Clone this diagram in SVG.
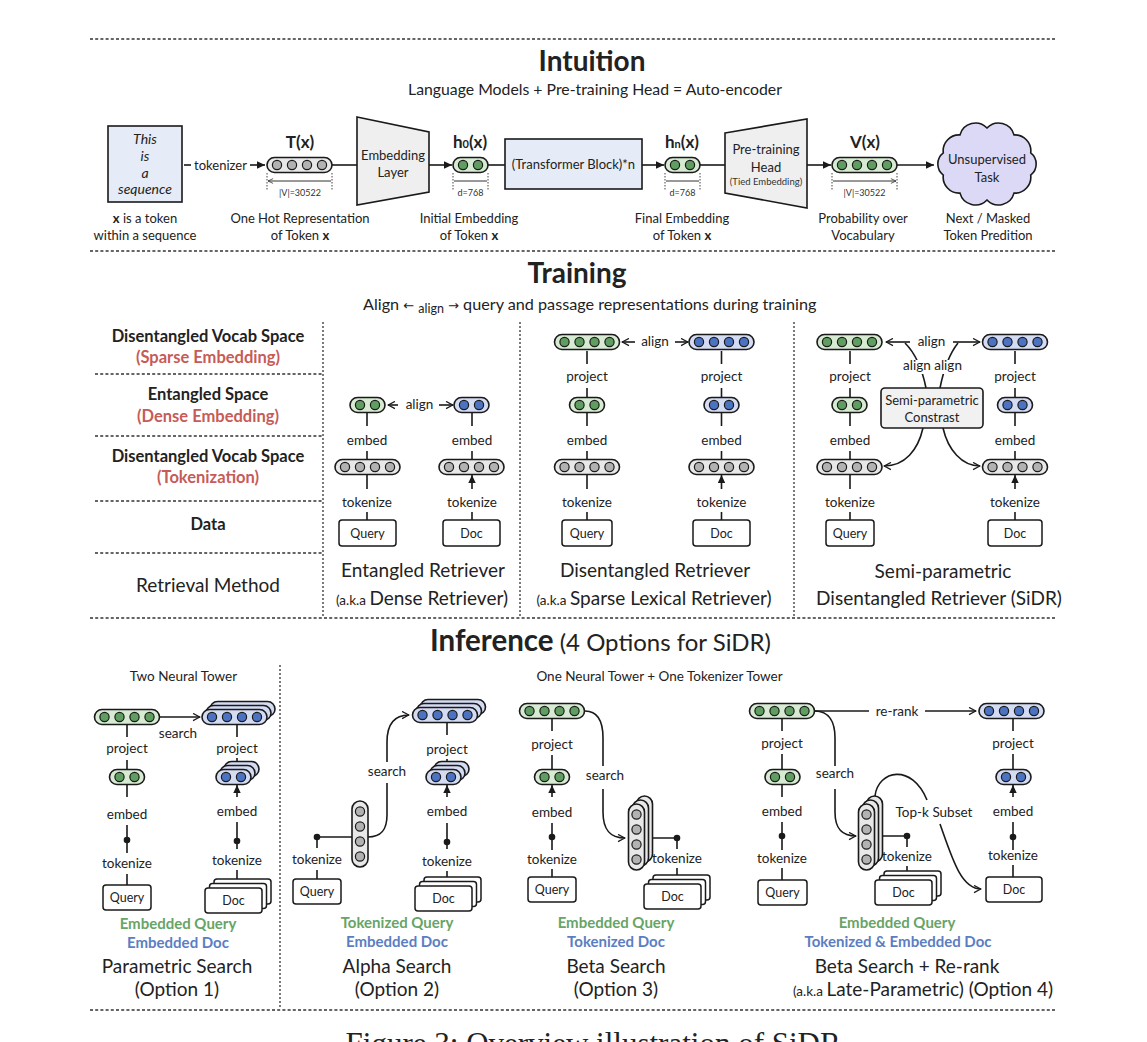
<svg xmlns="http://www.w3.org/2000/svg" width="1147" height="1042" viewBox="0 0 1147 1042">
<style>
text{font-family:Lato,"Noto Sans","DejaVu Sans",sans-serif;fill:#222}
.l{font-size:13.5px;text-anchor:middle}
.n{font-size:13px;text-anchor:middle}
.q{font-size:12.5px;text-anchor:middle}
.ttl{font-size:28px;font-weight:700;text-anchor:middle}
.sub{font-size:15.8px;text-anchor:middle}
.ct{font-size:19px;text-anchor:middle}
.lab{font-size:16.5px;font-weight:700;text-anchor:middle}
.red{fill:#c65b58}
.gt{fill:#67a466;font-size:15px;font-weight:700;text-anchor:middle}
.bt{fill:#5b7ec3;font-size:15px;font-weight:700;text-anchor:middle}
.fx{font-size:17px;font-weight:700;text-anchor:middle}
.dm{font-size:9px;text-anchor:middle;fill:#333}
.it{font-size:14px;font-style:italic;text-anchor:middle}
.ln{stroke:#1a1a1a;stroke-width:1.6;fill:none}
.dl{stroke:#333;stroke-width:1.3;stroke-dasharray:3 2.2;fill:none}
.vd{stroke:#333;stroke-width:1.3;stroke-dasharray:2 2;fill:none}
.dd{stroke:#444;stroke-width:1;stroke-dasharray:1.5 1.5;fill:none}
.bx{fill:#fff;stroke:#1a1a1a;stroke-width:1.5}
.G{fill:#d7ebd3;color:#5f9d60}
.B{fill:#d4dcf3;color:#4c72c2}
.K{fill:#e8e8e8;color:#b2b2b2}
.dot{fill:#1a1a1a}
</style>
<defs>
<marker id="af" viewBox="0 0 8 8" refX="8" refY="4" markerWidth="8" markerHeight="8" markerUnits="userSpaceOnUse" orient="auto"><path d="M0,0.3 L8,4 L0,7.7Z" fill="#1a1a1a"/></marker>
<marker id="ao" viewBox="0 0 10 10" refX="9.2" refY="5" markerWidth="9" markerHeight="9" markerUnits="userSpaceOnUse" orient="auto"><path d="M1.5,1 L9,5 L1.5,9" fill="none" stroke="#1a1a1a" stroke-width="1.4"/></marker>
<marker id="ad" viewBox="0 0 10 10" refX="9.5" refY="5" markerWidth="6" markerHeight="6" markerUnits="userSpaceOnUse" orient="auto-start-reverse"><path d="M1,1 L9.5,5 L1,9" fill="none" stroke="#333" stroke-width="1.3"/></marker>
<g id="h4"><rect x="-32.5" y="-7.5" width="65" height="15" rx="7.5" stroke="#1a1a1a" stroke-width="1.6"/><circle cx="-22.5" cy="0" r="4.6" fill="currentColor" stroke="#1a1a1a" stroke-width="1.2"/><circle cx="-7.5" cy="0" r="4.6" fill="currentColor" stroke="#1a1a1a" stroke-width="1.2"/><circle cx="7.5" cy="0" r="4.6" fill="currentColor" stroke="#1a1a1a" stroke-width="1.2"/><circle cx="22.5" cy="0" r="4.6" fill="currentColor" stroke="#1a1a1a" stroke-width="1.2"/></g>
<rect id="h4o" x="-32.5" y="-7.5" width="65" height="15" rx="7.5" stroke="#1a1a1a" stroke-width="1.6"/>
<g id="h2"><rect x="-17.5" y="-7.5" width="35" height="15" rx="7.5" stroke="#1a1a1a" stroke-width="1.6"/><circle cx="-7.5" cy="0" r="4.6" fill="currentColor" stroke="#1a1a1a" stroke-width="1.2"/><circle cx="7.5" cy="0" r="4.6" fill="currentColor" stroke="#1a1a1a" stroke-width="1.2"/></g>
<rect id="h2o" x="-17.5" y="-7.5" width="35" height="15" rx="7.5" stroke="#1a1a1a" stroke-width="1.6"/>
<g id="v4"><rect x="-8" y="-33" width="16" height="66" rx="8" stroke="#1a1a1a" stroke-width="1.6"/><circle cx="0" cy="-22.5" r="4.6" fill="currentColor" stroke="#1a1a1a" stroke-width="1.2"/><circle cx="0" cy="-7.5" r="4.6" fill="currentColor" stroke="#1a1a1a" stroke-width="1.2"/><circle cx="0" cy="7.5" r="4.6" fill="currentColor" stroke="#1a1a1a" stroke-width="1.2"/><circle cx="0" cy="22.5" r="4.6" fill="currentColor" stroke="#1a1a1a" stroke-width="1.2"/></g>
<rect id="v4o" x="-8" y="-33" width="16" height="66" rx="8" stroke="#1a1a1a" stroke-width="1.6"/>
<rect id="dk" x="0" y="0" width="57" height="25" rx="3" fill="#fff" stroke="#1a1a1a" stroke-width="1.5"/>
</defs>

<g id="frame">
<path class="dl" d="M90 39H1057M90 251H1057M90 618H1057M90 1010H1057"/>
<path class="vd" d="M323 322V617M520 322V617M794 322V617M280 665V1008"/>
<path class="dl" d="M95 374H322M95 436H322M95 501H322M95 553H322"/>
</g>

<g id="headings">
<text class="ttl" x="592" y="71">Intuition</text>
<text class="sub" x="595" y="95">Language Models + Pre-training Head = Auto-encoder</text>
<text class="ttl" x="577" y="283">Training</text>
<text style="font-size:16.2px" x="363" y="310">Align <tspan font-family="DejaVu Sans" font-size="13">←</tspan> <tspan font-size="12.5" dy="3">align</tspan><tspan dy="-3" font-family="DejaVu Sans" font-size="13"> →</tspan> query and passage representations during training</text>
<text x="430" y="651"><tspan font-size="29.5" font-weight="700">Inference</tspan><tspan font-size="24"> (4 Options for SiDR)</tspan></text>
<text class="l" x="183.5" y="681">Two Neural Tower</text>
<text class="l" x="659.5" y="681">One Neural Tower + One Tokenizer Tower</text>
</g>

<!-- ================= CONNECTORS ================= -->
<g id="connectors">
<path class="ln" d="M184 165H191"/>
<path class="ln" d="M250 165H265" marker-end="url(#af)"/>
<path class="ln" d="M332 165H357"/>
<path class="ln" d="M429 165H452" marker-end="url(#af)"/>
<path class="ln" d="M488 165H505"/>
<path class="ln" d="M642 165H664" marker-end="url(#af)"/>
<path class="ln" d="M700 165H725"/>
<path class="ln" d="M807 165H831" marker-end="url(#af)"/>
<path class="ln" d="M897 165H934" marker-end="url(#af)"/>
<text class="n" x="220.5" y="169.5">tokenizer</text>
<path class="dd" d="M267 173V191M332 173V191M453 173V191M488 173V191M665 173V191M700 173V191M832 173V191M897 173V191"/>
<path stroke="#333" stroke-width="1" fill="none" marker-start="url(#ad)" marker-end="url(#ad)" d="M268 181H331M454 181H487M666 181H699M833 181H896"/>

<path class="ln" d="M398 405H388" marker-end="url(#ao)"/>
<path class="ln" d="M439 405H453" marker-end="url(#ao)"/>
<text class="l" x="419.5" y="409">align</text>
<path class="ln" d="M367 426V413M472 426V413M367 489V475M472 489V475" marker-end="url(#af)"/>
<path class="ln" d="M367 451V459M472 451V459M367 512V520M472 512V520"/>
<text class="l" x="367" y="445">embed</text><text class="l" x="472" y="445">embed</text>
<text class="l" x="367" y="507">tokenize</text><text class="l" x="472" y="507">tokenize</text>

<path class="ln" d="M635 342H622" marker-end="url(#ao)"/>
<path class="ln" d="M675 342H688" marker-end="url(#ao)"/>
<text class="l" x="655" y="346">align</text>
<path class="ln" d="M587 364V351M721.5 364V351M587 426V413M721.5 426V413M587 489V475M721.5 489V475" marker-end="url(#af)"/>
<path class="ln" d="M587 388V397M721.5 388V397M587 451V459M721.5 451V459M587 512V520M721.5 512V520"/>
<text class="l" x="587" y="381">project</text><text class="l" x="721.5" y="381">project</text>
<text class="l" x="587" y="445">embed</text><text class="l" x="721.5" y="445">embed</text>
<text class="l" x="587" y="507">tokenize</text><text class="l" x="721.5" y="507">tokenize</text>

<path class="ln" d="M910 342H886" marker-end="url(#ao)"/>
<path class="ln" d="M953 342H980" marker-end="url(#ao)"/>
<path class="ln" d="M926 388Q920 358 905 343"/>
<path class="ln" d="M940 388Q946 358 958 343"/>
<rect x="903" y="360" width="59" height="14" fill="#fff"/>
<text class="l" x="931.5" y="346">align</text>
<text class="l" x="932.5" y="370">align align</text>
<path class="ln" d="M923 428C918 450 905 466 884 466" marker-end="url(#ao)"/>
<path class="ln" d="M943 428C948 450 962 466 980 466" marker-end="url(#ao)"/>
<path class="ln" d="M850 364V351M1015 364V351M850 426V413M1015 426V413M850 489V475M1015 489V475" marker-end="url(#af)"/>
<path class="ln" d="M850 388V397M1015 388V397M850 451V459M1015 451V459M850 512V520M1015 512V520"/>
<text class="l" x="850" y="381">project</text><text class="l" x="1015" y="381">project</text>
<text class="l" x="850" y="445">embed</text><text class="l" x="1015" y="445">embed</text>
<text class="l" x="850" y="507">tokenize</text><text class="l" x="1015" y="507">tokenize</text>

<path class="ln" d="M160 717H200" marker-end="url(#ao)"/>
<text class="l" x="178" y="738">search</text>
<path class="ln" d="M127 737V725M237 737V725M127 797V785M237 797V785" marker-end="url(#af)"/>
<path class="ln" d="M127 760V770M237 758V768M127 825V853M237 822V849M127 874V885M237 870V880"/>
<circle class="dot" cx="127" cy="840" r="3.3"/><circle class="dot" cx="237" cy="841" r="3.3"/>
<text class="l" x="127" y="753">project</text><text class="l" x="237" y="753">project</text>
<text class="l" x="127" y="819">embed</text><text class="l" x="237" y="816">embed</text>
<text class="l" x="127" y="868">tokenize</text><text class="l" x="237" y="865">tokenize</text>

<path class="ln" d="M317 837V848M317 837H352M317 870V879"/>
<circle class="dot" cx="317" cy="837" r="3.3"/>
<text class="l" x="317" y="864">tokenize</text>
<path class="ln" d="M368 837C382 837 387 829 387 815V783"/>
<path class="ln" d="M387 762V742C387 724 395 715 409 715" marker-end="url(#ao)"/>
<text class="l" x="387" y="776">search</text>
<path class="ln" d="M447 735V723M447 797V785" marker-end="url(#af)"/>
<path class="ln" d="M447 759V768M447 823V849M447 871V880"/>
<circle class="dot" cx="447" cy="842" r="3.3"/>
<text class="l" x="447" y="754">project</text>
<text class="l" x="447" y="816">embed</text>
<text class="l" x="447" y="866">tokenize</text>

<path class="ln" d="M552 731V719M552 797V785" marker-end="url(#af)"/>
<path class="ln" d="M552 755V770M552 823V850M552 869V877"/>
<circle class="dot" cx="552" cy="837" r="3.3"/>
<text class="l" x="552" y="749">project</text>
<text class="l" x="552" y="817">embed</text>
<text class="l" x="552" y="864">tokenize</text>
<path class="ln" d="M585 711C598 711 603 722 603 738V766"/>
<path class="ln" d="M603 789V812C603 830 610 838 625 838" marker-end="url(#ao)"/>
<text class="l" x="605" y="780">search</text>
<path class="ln" d="M644.5 838H677M677 838V849M677 868V876"/>
<circle class="dot" cx="677" cy="838" r="3.3"/>
<text class="l" x="677" y="863">tokenize</text>

<path class="ln" d="M815 711H869"/>
<path class="ln" d="M925 711H976" marker-end="url(#ao)"/>
<text class="l" x="897" y="716">re-rank</text>
<path class="ln" d="M782 731V719M782 797V785M1013 731V719M1013 797V785" marker-end="url(#af)"/>
<path class="ln" d="M782 754V770M782 822V850M782 868V880M1013 754V770M1013 822V850M1013 865V877"/>
<circle class="dot" cx="782" cy="836" r="3.3"/><circle class="dot" cx="1013" cy="837" r="3.3"/>
<text class="l" x="782" y="748">project</text><text class="l" x="1013" y="748">project</text>
<text class="l" x="782" y="816">embed</text><text class="l" x="1013" y="816">embed</text>
<text class="l" x="782" y="863">tokenize</text><text class="l" x="1013" y="860">tokenize</text>
<path class="ln" d="M815 711C829 711 835 722 835 738V766"/>
<path class="ln" d="M835 789V812C835 829 842 836 856 836" marker-end="url(#ao)"/>
<text class="l" x="835" y="778">search</text>
<path class="ln" d="M874.5 836H907M907 836V847M907 866V872"/>
<circle class="dot" cx="907" cy="836" r="3.3"/>
<text class="l" x="907" y="861">tokenize</text>
<path class="ln" d="M875 796C878 770 912 763 927 800"/>
<path class="ln" d="M940 824C952 858 961 889 981 889" marker-end="url(#ao)"/>
<text class="l" x="934" y="817">Top-k Subset</text>
</g>

<g id="input-seq">
<rect x="108" y="126" width="74" height="76" fill="#e6ecf7" stroke="#1a1a1a" stroke-width="1.6"/>
<text class="it" x="145" y="144">This</text><text class="it" x="145" y="161">is</text><text class="it" x="145" y="178">a</text><text class="it" x="145" y="194">sequence</text>
<text class="n" x="145" y="223"><tspan font-weight="700">x</tspan> is a token</text>
<text class="n" x="145" y="240">within a sequence</text>
</g>
<g id="tx">
<use href="#h4" x="299.5" y="165" class="K"/>
<text class="fx" x="300" y="148">T(x)</text>
<text class="dm" x="300" y="196">|V|=30522</text>
<text class="n" x="300" y="223">One Hot Representation</text>
<text class="n" x="300" y="240">of Token <tspan font-weight="700">x</tspan></text>
</g>
<g id="embedding-layer">
<polygon points="357,117 429,132 429,192 357,205" fill="#efefef" stroke="#1a1a1a" stroke-width="1.6"/>
<text class="n" x="393" y="160">Embedding</text><text class="n" x="393" y="177">Layer</text>
</g>
<g id="h0x">
<use href="#h2" x="470.5" y="165" class="G"/>
<text class="fx" x="470" y="148">h<tspan font-size="11">0</tspan>(x)</text>
<text class="dm" x="470.5" y="196">d=768</text>
<text class="n" x="469" y="223">Initial Embedding</text>
<text class="n" x="469" y="240">of Token <tspan font-weight="700">x</tspan></text>
</g>
<g id="transformer">
<rect x="505" y="139" width="137" height="50" fill="#e6ecf7" stroke="#1a1a1a" stroke-width="1.6"/>
<text class="n" x="573.5" y="169">(Transformer Block)*n</text>
</g>
<g id="hnx">
<use href="#h2" x="682.5" y="165" class="G"/>
<text class="fx" x="682" y="148">h<tspan font-size="11">n</tspan>(x)</text>
<text class="dm" x="682.5" y="196">d=768</text>
<text class="n" x="682" y="223">Final Embedding</text>
<text class="n" x="682" y="240">of Token <tspan font-weight="700">x</tspan></text>
</g>
<g id="pt-head">
<polygon points="725,133 807,119 807,208 725,193" fill="#efefef" stroke="#1a1a1a" stroke-width="1.6"/>
<text class="n" x="766" y="154">Pre-training</text><text class="n" x="766" y="172">Head</text>
<text class="dm" style="font-size:9.5px" x="766" y="185">(Tied Embedding)</text>
</g>
<g id="vx">
<use href="#h4" x="864.5" y="165" class="G"/>
<text class="fx" x="865" y="148">V(x)</text>
<text class="dm" x="864.5" y="196">|V|=30522</text>
<text class="n" x="863" y="223">Probability over</text>
<text class="n" x="863" y="240">Vocabulary</text>
</g>
<g id="task">
<path d="M987 128A16 16 0 0 1 1014 134.9A16 16 0 0 1 1030.7 152.9A14 14 0 0 1 1030.7 175.1A16 16 0 0 1 1014 193.1A16 16 0 0 1 987 200A16 16 0 0 1 960 193.1A16 16 0 0 1 943.3 175.1A14 14 0 0 1 943.3 152.9A16 16 0 0 1 960 134.9A16 16 0 0 1 987 128Z" fill="#dcd9f6" stroke="#1a1a1a" stroke-width="1.6"/>
<text class="n" x="987" y="164">Unsupervised</text><text class="n" x="987" y="182">Task</text>
<text class="n" x="988" y="223">Next / Masked</text>
<text class="n" x="988" y="240">Token Predition</text>
</g>

<g id="row-labels">
<text class="lab" x="208" y="342">Disentangled Vocab Space</text>
<text class="lab red" x="208" y="363">(Sparse Embedding)</text>
<text class="lab" x="208" y="400">Entangled Space</text>
<text class="lab red" x="208" y="422">(Dense Embedding)</text>
<text class="lab" x="208" y="462">Disentangled Vocab Space</text>
<text class="lab red" x="208" y="483">(Tokenization)</text>
<text class="lab" x="208" y="530">Data</text>
<text class="ct" x="208" y="592">Retrieval Method</text>
</g>
<g id="entangled">
<use href="#h2" x="367.5" y="405" class="G"/><use href="#h2" x="471.5" y="405" class="B"/>
<use href="#h4" x="367.5" y="467" class="K"/><use href="#h4" x="471.5" y="467" class="K"/>
<rect class="bx" x="339" y="520" width="57" height="26" rx="3"/><text class="q" x="367.5" y="537.5">Query</text>
<rect class="bx" x="443" y="520" width="57" height="26" rx="3"/><text class="q" x="471.5" y="537.5">Doc</text>
<text class="ct" x="423" y="577">Entangled Retriever</text>
<text class="ct" x="422" y="605"><tspan font-size="13.5">(a.k.a </tspan>Dense Retriever)</text>
</g>
<g id="disentangled">
<use href="#h4" x="587" y="342" class="G"/><use href="#h4" x="721.5" y="342" class="B"/>
<use href="#h2" x="587" y="405" class="G"/><use href="#h2" x="721.5" y="405" class="B"/>
<use href="#h4" x="587" y="467" class="K"/><use href="#h4" x="721.5" y="467" class="K"/>
<rect class="bx" x="562" y="520" width="50" height="26" rx="3"/><text class="q" x="587" y="537.5">Query</text>
<rect class="bx" x="693" y="520" width="57" height="26" rx="3"/><text class="q" x="721.5" y="537.5">Doc</text>
<text class="ct" x="655" y="577">Disentangled Retriever</text>
<text class="ct" x="654" y="605"><tspan font-size="13.5">(a.k.a </tspan>Sparse Lexical Retriever)</text>
</g>
<g id="sidr">
<use href="#h4" x="849.5" y="342" class="G"/><use href="#h4" x="1015" y="342" class="B"/>
<use href="#h2" x="849.5" y="405" class="G"/><use href="#h2" x="1015" y="405" class="B"/>
<use href="#h4" x="849.5" y="467" class="K"/><use href="#h4" x="1015" y="467" class="K"/>
<rect x="881" y="388" width="102" height="40" rx="4" fill="#f1f1f1" stroke="#1a1a1a" stroke-width="1.6"/>
<text class="n" x="932" y="405">Semi-parametric</text><text class="n" x="932" y="422">Constrast</text>
<rect class="bx" x="826" y="520" width="48" height="26" rx="3"/><text class="q" x="850" y="537.5">Query</text>
<rect class="bx" x="988" y="520" width="54" height="26" rx="3"/><text class="q" x="1015" y="537.5">Doc</text>
<text class="ct" x="943" y="578">Semi-parametric</text>
<text class="ct" x="939" y="605">Disentangled Retriever (SiDR)</text>
</g>

<g id="option1">
<use href="#h4" x="127" y="717" class="G"/>
<use href="#h4o" x="242.5" y="709" class="B"/><use href="#h4o" x="238.5" y="713" class="B"/><use href="#h4" x="234.5" y="717" class="B"/>
<use href="#h2" x="127" y="777" class="G"/>
<use href="#h2o" x="241.5" y="769" class="B"/><use href="#h2o" x="237.5" y="773" class="B"/><use href="#h2" x="233.5" y="777" class="B"/>
<rect class="bx" x="103" y="885" width="48" height="25" rx="3"/><text class="q" x="127" y="902">Query</text>
<use href="#dk" x="214" y="879"/><use href="#dk" x="209.5" y="883.5"/><use href="#dk" x="205" y="888"/><text class="q" x="233.5" y="905">Doc</text>
<text class="gt" x="178" y="929">Embedded Query</text>
<text class="bt" x="178" y="948">Embedded Doc</text>
<text class="ct" x="177" y="973">Parametric Search</text>
<text class="ct" x="177" y="996">(Option 1)</text>
</g>
<g id="option2">
<use href="#v4" x="360" y="834" class="K"/>
<use href="#h4o" x="453" y="707" class="B"/><use href="#h4o" x="449" y="711" class="B"/><use href="#h4" x="445" y="715" class="B"/>
<use href="#h2o" x="451.5" y="769" class="B"/><use href="#h2o" x="447.5" y="773" class="B"/><use href="#h2" x="443.5" y="777" class="B"/>
<rect class="bx" x="293" y="879" width="48" height="25" rx="3"/><text class="q" x="317" y="896">Query</text>
<use href="#dk" x="424" y="877"/><use href="#dk" x="419.5" y="881.5"/><use href="#dk" x="415" y="886"/><text class="q" x="443.5" y="903">Doc</text>
<text class="gt" x="397" y="928">Tokenized Query</text>
<text class="bt" x="397" y="947">Embedded Doc</text>
<text class="ct" x="397" y="973">Alpha Search</text>
<text class="ct" x="397" y="996">(Option 2)</text>
</g>
<g id="option3">
<use href="#h4" x="552" y="711" class="G"/>
<use href="#h2" x="552" y="777" class="G"/>
<rect class="bx" x="528" y="877" width="48" height="25" rx="3"/><text class="q" x="552" y="894">Query</text>
<use href="#v4o" x="644.5" y="829" class="K"/><use href="#v4o" x="640.5" y="833" class="K"/><use href="#v4" x="636.5" y="837" class="K"/>
<use href="#dk" x="653" y="875"/><use href="#dk" x="648.5" y="879.5"/><use href="#dk" x="644" y="884"/><text class="q" x="672.5" y="901">Doc</text>
<text class="gt" x="616" y="928">Embedded Query</text>
<text class="bt" x="616" y="947">Tokenized Doc</text>
<text class="ct" x="616" y="973">Beta Search</text>
<text class="ct" x="616" y="996">(Option 3)</text>
</g>
<g id="option4">
<use href="#h4" x="782" y="711" class="G"/>
<use href="#h4" x="1011.5" y="711" class="B"/>
<use href="#h2" x="782.5" y="777" class="G"/>
<use href="#h2" x="1013.5" y="777" class="B"/>
<rect class="bx" x="758" y="880" width="49" height="25" rx="3"/><text class="q" x="782.5" y="897">Query</text>
<use href="#v4o" x="874.5" y="829" class="K"/><use href="#v4o" x="870.5" y="833" class="K"/><use href="#v4" x="866.5" y="837" class="K"/>
<use href="#dk" x="884" y="871"/><use href="#dk" x="879.5" y="875.5"/><use href="#dk" x="875" y="880"/><text class="q" x="903.5" y="897">Doc</text>
<rect class="bx" x="986" y="877" width="56" height="25" rx="3"/><text class="q" x="1014" y="894">Doc</text>
<text class="gt" x="897" y="928">Embedded Query</text>
<text class="bt" x="898" y="947">Tokenized &amp; Embedded Doc</text>
<text class="ct" x="907" y="973">Beta Search + Re-rank</text>
<text class="ct" x="923" y="996"><tspan font-size="13.5">(a.k.a </tspan>Late-Parametric) (Option 4)</text>
</g>
<g id="caption">
<text x="597" y="1054" text-anchor="middle" style="font-family:'Liberation Serif',serif;font-size:31px">Figure 3: Overview illustration of SiDR.</text>
</g>
</svg>
